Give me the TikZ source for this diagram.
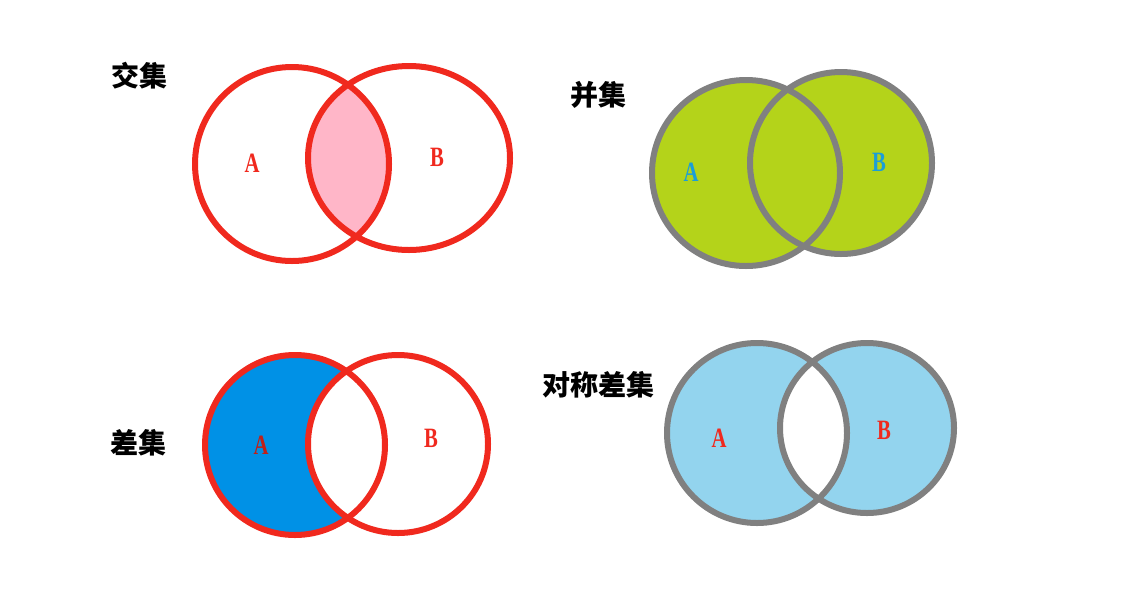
\documentclass[tikz,border=0pt]{standalone}
\usepackage{fontspec}
\setmainfont{Liberation Serif}
\newfontfamily\cjk{Noto Sans CJK SC}
\usetikzlibrary{positioning}
\definecolor{setred}{HTML}{F0291E}
\definecolor{setgray}{HTML}{808080}
\definecolor{setpink}{HTML}{FFB6C8}
\definecolor{setgreen}{HTML}{B4D31A}
\definecolor{setblue}{HTML}{0091E6}
\definecolor{setsky}{HTML}{93D4EE}
\definecolor{labblue}{HTML}{1B9ED8}
\tikzset{
	title/.style={font=\cjk\bfseries\fontsize{28}{28}\selectfont},
	lab/.style={font=\bfseries\fontsize{28}{28}\selectfont, text=setred},
	redring/.style={draw=setred, line width=6pt},
	grayring/.style={draw=setgray, line width=6pt}
}
\newcommand{\lett}[1]{\scalebox{0.74}[1]{#1}}

\begin{document}
\begin{tikzpicture}[x=1pt, y=-1pt]
	\useasboundingbox (0,0) rectangle (1134,598);

	% intersection
	\begin{scope}
		\clip (292,164) ellipse [x radius=97, y radius=97];
		\fill[setpink] (409,158) ellipse [x radius=101, y radius=92];
	\end{scope}
	\draw[redring] (292,164) ellipse [x radius=97, y radius=97];
	\draw[redring] (409,158) ellipse [x radius=101, y radius=92];
	\node[title] (tInter) at (139,76) {交集};
	\node[lab] (interA) at (252,163) {\lett{A}};
	\node[lab] (interB) at (437,157) {\lett{B}};

	% union
	\fill[setgreen] (746,173) ellipse [x radius=94, y radius=93];
	\fill[setgreen] (841,163) ellipse [x radius=91, y radius=91];
	\draw[grayring] (746,173) ellipse [x radius=94, y radius=93];
	\draw[grayring] (841,163) ellipse [x radius=91, y radius=91];
	\node[title] (tUnion) at (598,95) {并集};
	\node[lab, text=labblue] (unionA) at (691,172) {\lett{A}};
	\node[lab, text=labblue] (unionB) at (879,162) {\lett{B}};

	% difference
	\fill[setblue] (295,445) ellipse [x radius=90, y radius=90];
	\fill[white] (398,444) ellipse [x radius=90, y radius=89];
	\draw[redring] (295,445) ellipse [x radius=90, y radius=90];
	\draw[redring] (398,444) ellipse [x radius=90, y radius=89];
	\node[title] (tDiff) at (138,443) {差集};
	\node[lab, text=setred!80!black] (diffA) at (261,445) {\lett{A}};
	\node[lab] (diffB) at (431,438) {\lett{B}};

	% symmetric difference
	\fill[setsky, even odd rule] (757,433) ellipse [x radius=90, y radius=90]
		(867,428) ellipse [x radius=87, y radius=85];
	\draw[grayring] (757,433) ellipse [x radius=90, y radius=90];
	\draw[grayring] (867,428) ellipse [x radius=87, y radius=85];
	\node[title] (tSym) at (598,385) {对称差集};
	\node[lab] (symA) at (719,438) {\lett{A}};
	\node[lab] (symB) at (884,430) {\lett{B}};
\end{tikzpicture}
\end{document}
